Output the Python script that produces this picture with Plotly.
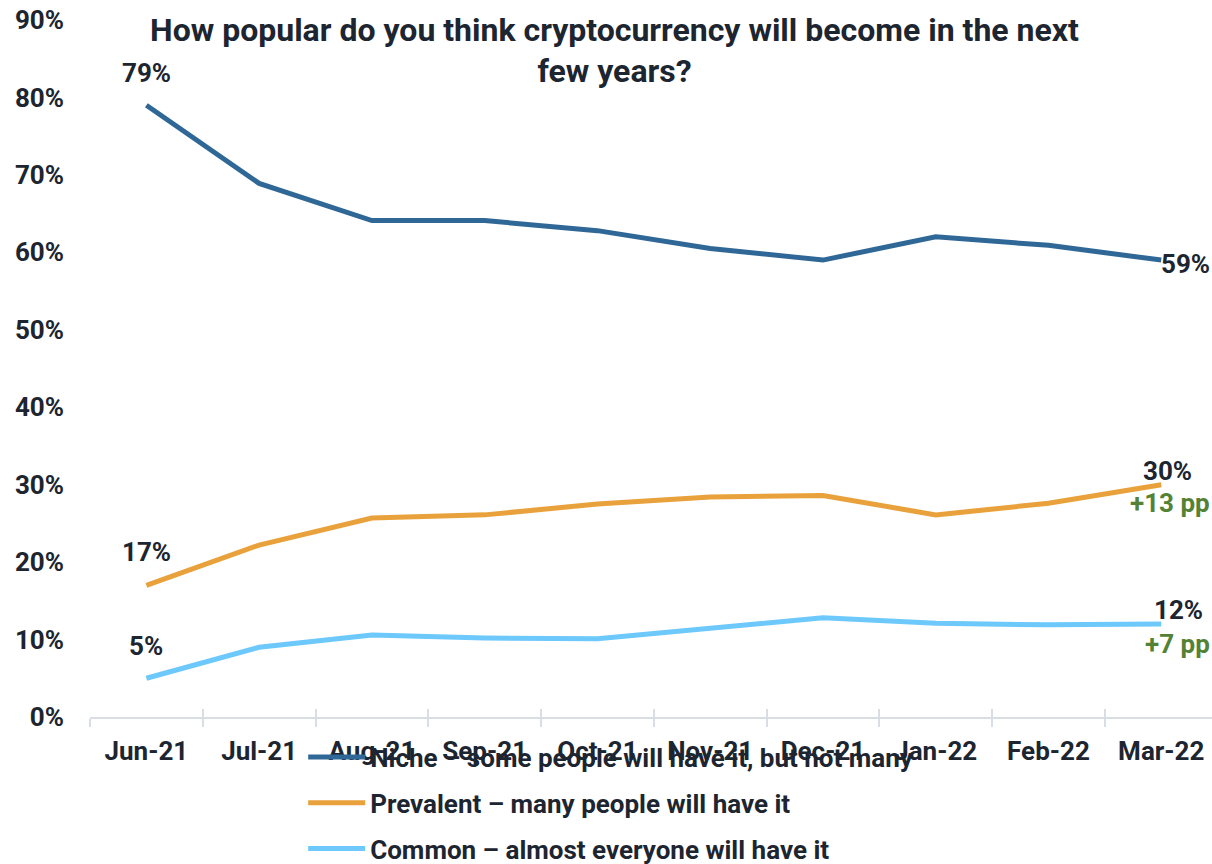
import plotly.graph_objects as go

months = ["Jun-21", "Jul-21", "Aug-21", "Sep-21", "Oct-21", "Nov-21",
          "Dec-21", "Jan-22", "Feb-22", "Mar-22"]
niche = [79.0, 68.9, 64.1, 64.1, 62.8, 60.5, 59.0, 62.0, 60.9, 59.0]
prevalent = [17.0, 22.2, 25.7, 26.1, 27.5, 28.4, 28.6, 26.1, 27.6, 30.0]
common = [5.0, 9.0, 10.6, 10.2, 10.1, 11.5, 12.8, 12.1, 11.9, 12.0]

series_names = ["Niche – some people will have it, but not many",
                "Prevalent – many people will have it",
                "Common – almost everyone will have it"]
colors = ["#2f6896", "#e9a23b", "#6dc8fb"]

FONT = "Roboto"
DARK = "#1c2530"
GREEN = "#548235"
GRID = "#d9dde4"
FS = 26

fig = go.Figure()
for name, vals, col in zip(series_names, [niche, prevalent, common], colors):
    fig.add_trace(go.Scatter(
        x=months, y=vals, mode="lines", name=name, legendgroup=name,
        line=dict(color=col, width=5), hoverinfo="skip"))

# second x axis only for tick marks pointing into the plot
fig.add_trace(go.Scatter(x=months, y=[None] * len(months), xaxis="x2",
                         showlegend=False, hoverinfo="skip"))

lab = dict(font=dict(family=FONT, size=FS, color=DARK, weight="bold"),
           showarrow=False)
first, last = months[0], months[-1]
fig.add_annotation(x=first, y=niche[0], text=f"{niche[0]:.0f}%", yshift=32, **lab)
fig.add_annotation(x=first, y=prevalent[0], text=f"{prevalent[0]:.0f}%", yshift=33, **lab)
fig.add_annotation(x=first, y=common[0], text=f"{common[0]:.0f}%", yshift=32, **lab)
fig.add_annotation(x=last, y=niche[-1], text=f"{niche[-1]:.0f}%",
                   xanchor="left", xshift=-2, yshift=-4, **lab)
fig.add_annotation(x=last, y=prevalent[-1], text=f"{prevalent[-1]:.0f}%",
                   xshift=6, yshift=14, **lab)
fig.add_annotation(x=last, y=common[-1], text=f"{common[-1]:.0f}%",
                   xshift=17, yshift=14, **lab)

green = dict(font=dict(family=FONT, size=FS, color=GREEN, weight="bold"),
             showarrow=False)
fig.add_annotation(x=last, y=prevalent[-1],
                   text=f"+{prevalent[-1] - prevalent[0]:.0f} pp",
                   xshift=9, yshift=-18, **green)
fig.add_annotation(x=last, y=common[-1],
                   text=f"+{common[-1] - common[0]:.0f} pp",
                   xshift=16, yshift=-20, **green)

fig.update_layout(
    width=1212, height=864,
    margin=dict(l=90, r=0, t=20, b=147, autoexpand=False),
    paper_bgcolor="white", plot_bgcolor="white",
    font=dict(family=FONT, color=DARK, size=FS),
    title=dict(text="<b>How popular do you think cryptocurrency will become in the next<br>few years?</b>",
               xref="container", x=0.507, xanchor="center",
               yref="container", y=0.953, yanchor="top",
               font=dict(family=FONT, size=32, color=DARK)),
    showlegend=True,
    legend=dict(x=0.19, xanchor="left", yref="container", y=0.151,
                yanchor="top", orientation="v", tracegroupgap=9,
                font=dict(family=FONT, size=FS, color=DARK, weight="bold"),
                bgcolor="rgba(0,0,0,0)", itemwidth=57),
    xaxis=dict(type="category", range=[-0.5, 9.45], showgrid=False,
               automargin=False,
               showline=True, linecolor=GRID, linewidth=2,
               ticks="outside", tickson="boundaries", ticklen=8,
               tickcolor=GRID, tickwidth=2, ticklabelstandoff=10,
               tickfont=dict(family=FONT, size=FS, color=DARK, weight="bold")),
    xaxis2=dict(type="category", overlaying="x", matches="x", side="bottom",
                showgrid=False, showline=False, ticks="inside",
                tickson="boundaries", ticklen=8, tickcolor=GRID,
                tickwidth=2, showticklabels=False),
    yaxis=dict(range=[0, 90], dtick=10, ticksuffix="%", showgrid=False,
               automargin=False,
               zeroline=False, showline=False, ticks="", ticklabelstandoff=25,
               tickfont=dict(family=FONT, size=FS, color=DARK, weight="bold")),
)

fig.write_html("out.html")
